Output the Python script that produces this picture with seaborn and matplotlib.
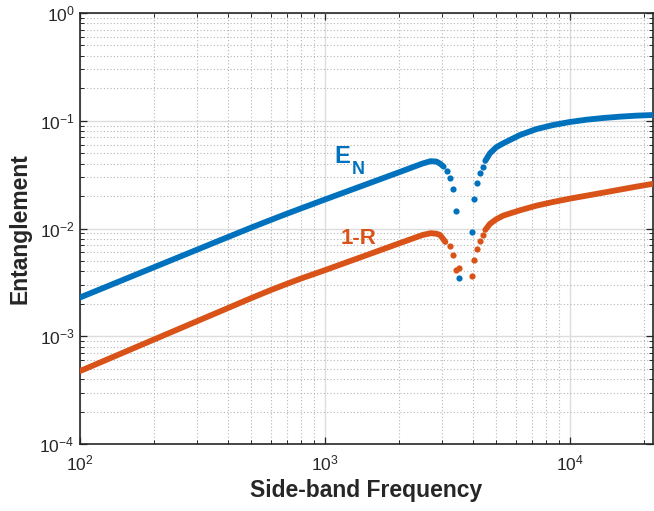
import numpy as np
import pandas as pd
import seaborn as sns
import matplotlib
matplotlib.use('Agg')
import matplotlib.pyplot as plt
from matplotlib.ticker import LogLocator, NullFormatter

# values (frequency, value)
blue_pre_f = [100, 200, 400, 500, 600, 700, 800, 1000, 1500, 2000, 2500, 2700, 2850, 2950, 3050]
blue_pre_v = [2.29e-3, 4.36e-3, 8.30e-3, 1.02e-2, 1.20e-2, 1.374e-2, 1.54e-2, 1.86e-2, 2.61e-2,
              3.32e-2, 4.01e-2, 4.22e-2, 4.18e-2, 4.00e-2, 3.75e-2]
blue_dip_f = [3160, 3250, 3330, 3425, 3535, 3965, 4060, 4160, 4280, 4400]
blue_dip_v = [3.42e-2, 2.94e-2, 2.33e-2, 1.46e-2, 3.46e-3, 9.24e-3, 1.87e-2, 2.62e-2, 3.26e-2, 3.75e-2]
blue_post_f = [4510, 4710, 5000, 5340, 6250, 7310, 8550, 10000, 11700, 13700, 16000, 18700, 22000]
blue_post_v = [4.24e-2, 4.99e-2, 5.68e-2, 6.18e-2, 7.38e-2, 8.39e-2, 9.14e-2, 9.75e-2,
               1.024e-1, 1.062e-1, 1.092e-1, 1.116e-1, 1.132e-1]

orange_pre_f = [100, 200, 400, 500, 600, 700, 800, 1000, 1500, 2000, 2500, 2700, 2850, 2950, 3100]
orange_pre_v = [4.75e-4, 9.31e-4, 1.82e-3, 2.26e-3, 2.68e-3, 3.07e-3, 3.44e-3, 4.11e-3, 5.73e-3,
                7.26e-3, 8.71e-3, 9.05e-3, 8.95e-3, 8.70e-3, 7.50e-3]
orange_dip_f = [3250, 3330, 3425, 3535, 3965, 4060, 4160, 4280, 4400]
orange_dip_v = [6.82e-3, 5.65e-3, 4.13e-3, 4.28e-3, 3.66e-3, 5.08e-3, 6.43e-3, 7.67e-3, 8.67e-3]
orange_post_f = [4510, 4710, 5000, 5340, 6250, 7310, 8550, 10000, 11700, 13700, 16000, 18700, 22000]
orange_post_v = [9.70e-3, 1.104e-2, 1.219e-2, 1.318e-2, 1.477e-2, 1.632e-2, 1.765e-2, 1.895e-2,
                 2.02e-2, 2.154e-2, 2.297e-2, 2.45e-2, 2.61e-2]

BLUE = '#0072BD'
ORANGE = '#D95319'

sns.set_theme(style='ticks')
plt.rcParams['font.family'] = ['Liberation Sans', 'DejaVu Sans']
plt.rcParams['mathtext.fontset'] = 'custom'
plt.rcParams['mathtext.rm'] = 'Liberation Sans'
plt.rcParams['mathtext.bf'] = 'Liberation Sans:bold'

fig = plt.figure(figsize=(6.54, 5.11), dpi=100)
ax = fig.add_axes([0.1223, 0.1311, 0.8761, 0.8434])
ax.set_xscale('log')
ax.set_yscale('log')

# smooth parts as thick lines, dip as separate dots
for f, v, c in [(blue_pre_f, blue_pre_v, BLUE), (blue_post_f, blue_post_v, BLUE),
                (orange_pre_f, orange_pre_v, ORANGE), (orange_post_f, orange_post_v, ORANGE)]:
    sns.lineplot(x=f, y=v, ax=ax, color=c, linewidth=4.2, solid_capstyle='round',
                 solid_joinstyle='round', estimator=None, sort=False, zorder=3)
sns.scatterplot(x=blue_dip_f, y=blue_dip_v, ax=ax, color=BLUE, s=20, linewidth=0, zorder=3)
sns.scatterplot(x=orange_dip_f, y=orange_dip_v, ax=ax, color=ORANGE, s=20, linewidth=0, zorder=4)

ax.set_xlim(100, 2.18e4)
ax.set_ylim(1e-4, 1)

for axis in (ax.xaxis, ax.yaxis):
    axis.set_major_locator(LogLocator(base=10, numticks=20))
    axis.set_minor_locator(LogLocator(base=10, subs=np.arange(2, 10), numticks=100))
    axis.set_minor_formatter(NullFormatter())

ax.set_axisbelow(True)
ax.grid(True, which='major', color='#dddddd', linestyle='-', linewidth=1.0)
ax.grid(True, which='minor', color='#b5b5b5', linestyle=(0, (1, 2)), linewidth=0.8)

ax.tick_params(which='both', direction='in', top=True, right=True, color='#262626',
               labelsize=12.5, labelcolor='#262626')
ax.tick_params(which='major', length=5, width=0.9)
ax.tick_params(which='minor', length=3, width=0.7)
ax.tick_params(axis='x', pad=7)
ax.tick_params(axis='y', pad=4)
for s in ax.spines.values():
    s.set_linewidth(1.2)
    s.set_color('#262626')

ax.set_xlabel('Side-band Frequency', fontsize=16.5, fontweight='bold', color='#262626', labelpad=4)
ax.set_ylabel('Entanglement', fontsize=16.5, fontweight='bold', color='#262626', labelpad=6)

ax.text(1088, 0.0406, 'E', color=BLUE, fontsize=17, fontweight='bold', va='baseline')
ax.text(1288, 0.0321, 'N', color=BLUE, fontsize=13, fontweight='bold', va='baseline')
ax.text(1161, 7.2e-3, '1-R', color=ORANGE, fontsize=16, fontweight='bold', va='baseline')

fig.savefig('out.png', dpi=100)
